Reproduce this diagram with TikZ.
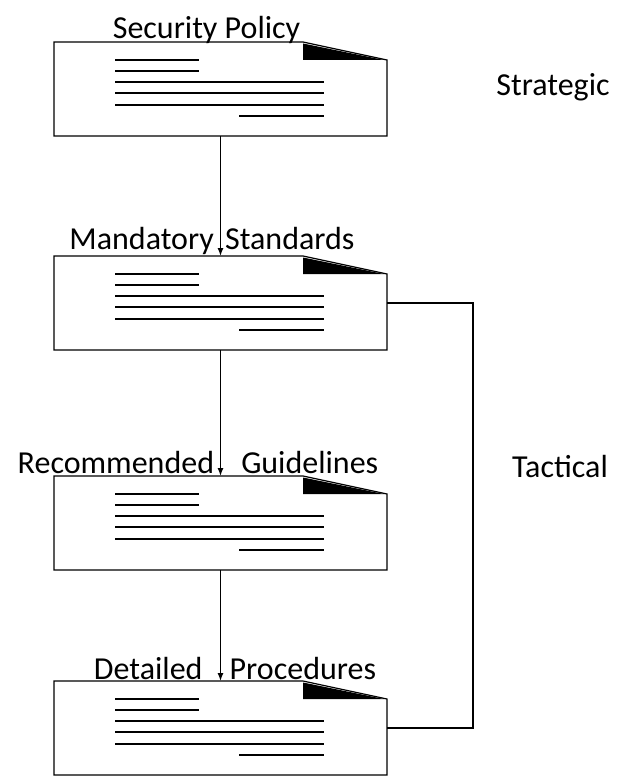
\documentclass[tikz,border=0pt]{standalone}
\usepackage{fontspec}
\setmainfont{Carlito}
\usetikzlibrary{positioning,arrows.meta}

\tikzset{
  docbox/.style={rectangle, minimum width=333pt, minimum height=94pt, inner sep=0pt, outer sep=0pt},
  lbl/.style={anchor=base, inner sep=0pt, font=\fontsize{32}{38}\selectfont},
  textline/.style={line width=2.8pt}
}

% page with folded corner, drawn on a docbox node
\newcommand{\docsheet}[1]{%
  \begin{scope}[shift={(#1.north west)}]
    \fill (249,1.5) -- (330,18) -- (249,18) -- cycle;
    \draw[line width=1.2pt] (0,0) -- (249,0) -- (333,18) -- (333,94) -- (0,94) -- cycle;
    \foreach \y in {18,29}
      \draw[textline] (61,\y) -- (145,\y);
    \foreach \y in {40,51,63}
      \draw[textline] (61,\y) -- (270,\y);
    \draw[textline] (185,74) -- (270,74);
  \end{scope}}

\begin{document}
\begin{tikzpicture}[
                    x=1pt, y=-1pt,
                    >={Latex[length=8pt,width=6pt]}
                    ]
    \useasboundingbox (0,0) rectangle (629,776);

    \node [docbox] (policy) at (220.5,89) {};
    \node [docbox, below=120pt of policy] (standards) {};
    \node [docbox, below=126pt of standards] (guidelines) {};
    \node [docbox, below=111pt of guidelines] (procedures) {};

    \docsheet{policy}
    \docsheet{standards}
    \docsheet{guidelines}
    \docsheet{procedures}

    \node [lbl] (policylbl) at (206.5,38) {Security Policy};
    \node [lbl] (standardslbl) at (212,249) {Mandatory\hspace{4pt} Standards};
    \node [lbl] (guidelineslbl) at (198,473) {Recommended\hspace{20pt} Guidelines};
    \node [lbl] (procedureslbl) at (235,679) {Detailed\hspace{20pt} Procedures};

    \node [lbl] (strategic) at (553,95) {Strategic};
    \node [lbl] (tactical) at (560,477) {Tactical};

    \draw[->, line width=1.2pt] (policy) -- (standards);
    \draw[->, line width=1.2pt] (standards) -- (guidelines);
    \draw[->, line width=1.2pt] (guidelines) -- (procedures);
    \draw[line width=1.2pt] (standards.east) -- ++(86,0) |- (procedures.east);
\end{tikzpicture}
\end{document}
